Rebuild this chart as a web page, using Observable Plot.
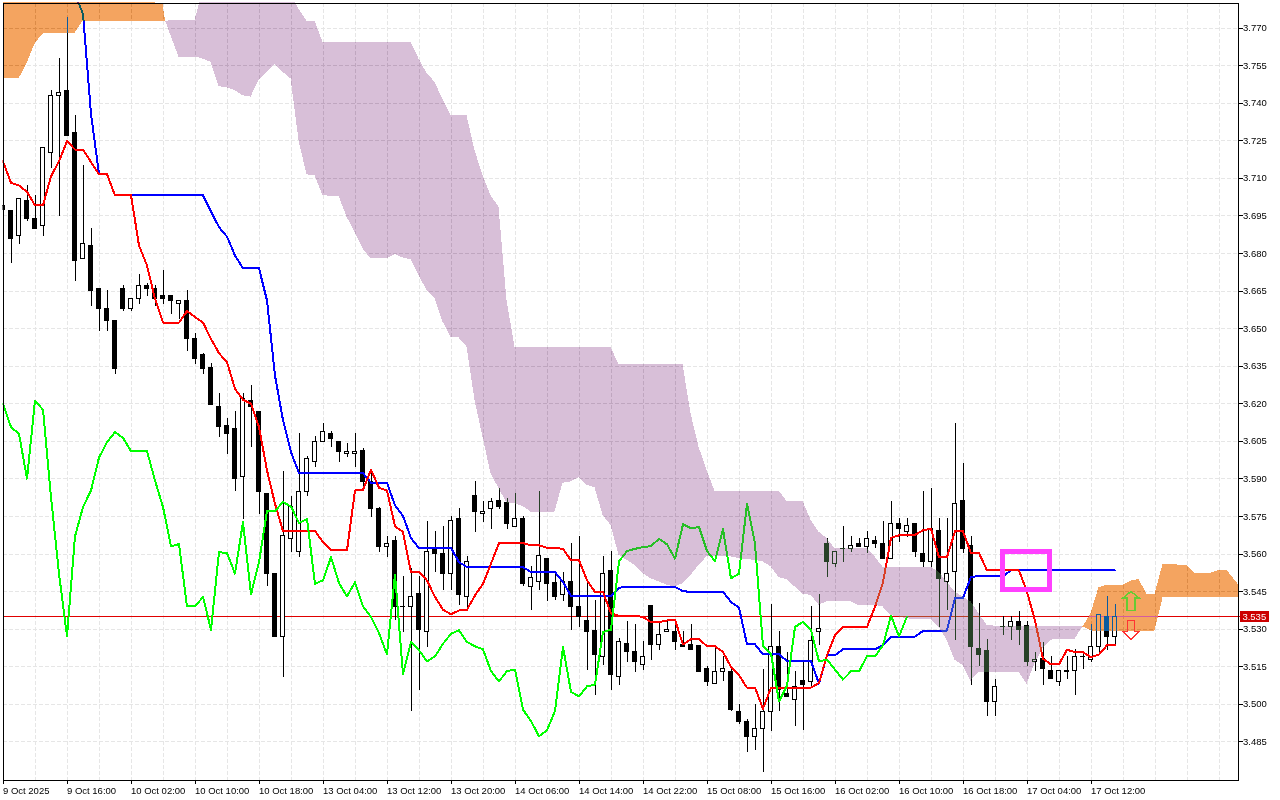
<!DOCTYPE html>
<html>
<head>
<meta charset="utf-8">
<script src="https://cdn.jsdelivr.net/npm/d3@7"></script>
<script src="https://cdn.jsdelivr.net/npm/@observablehq/plot@0.6"></script>
<style>
html,body{margin:0;padding:0;background:#fff;}
svg{display:block;shape-rendering:crispEdges;}
</style>
</head>
<body>
<div id="chart"></div>
<script>
const xTickLabels = ["9 Oct 2025","9 Oct 16:00","10 Oct 02:00","10 Oct 10:00","10 Oct 18:00","13 Oct 04:00","13 Oct 12:00","13 Oct 20:00","14 Oct 06:00","14 Oct 14:00","14 Oct 22:00","15 Oct 08:00","15 Oct 16:00","16 Oct 02:00","16 Oct 10:00","16 Oct 18:00","17 Oct 04:00","17 Oct 12:00"];
const priceTicks = [3.485,3.5,3.515,3.53,3.545,3.56,3.575,3.59,3.605,3.62,3.635,3.65,3.665,3.68,3.695,3.71,3.725,3.74,3.755,3.77];
const lastPrice = 3.535;

const opens = [
3.6991,3.6971,3.687,3.7011,3.6938,3.6909,3.72,3.7429,3.745,3.7281,
3.6778,3.683,3.6659,3.6579,3.6532,3.6659,3.6578,3.6619,3.6671,3.6659,
3.6632,3.6632,3.6599,3.6611,3.6459,3.6393,3.6341,3.6189,3.611,3.61,
3.5907,3.6213,3.6169,3.5841,3.5522,3.5269,3.5661,3.5608,3.5849,3.5969,
3.6048,3.608,3.6048,3.6,3.6,3.601,3.5887,3.5781,3.5628,3.5651,
3.5388,3.5389,3.5439,3.5289,3.5619,3.5601,3.5519,3.5742,3.5429,3.583,
3.5761,3.5781,3.581,3.5802,3.5708,3.5742,3.5469,3.549,3.5582,3.5483,
3.5437,3.549,3.539,3.5332,3.5292,3.5189,3.5531,3.5109,3.524,3.5209,
3.5159,3.5391,3.5239,3.529,3.529,3.5239,3.5239,3.5232,3.514,3.508,
3.513,3.513,3.497,3.493,3.487,3.49,3.497,3.523,3.504,3.5019,
3.5092,3.5091,3.5289,3.5641,3.5562,3.562,3.5621,3.5641,3.5628,3.5651,
3.5641,3.558,3.5721,3.5688,3.5721,3.5601,3.5568,3.5691,3.5488,3.5528,
3.581,3.5631,3.522,3.5212,3.5009,3.5308,3.5309,3.533,3.5312,3.5169,
3.518,3.5132,3.5091,3.5131,3.5132,3.519,3.5179,3.5229,3.5349,3.5269];
const closes = [
3.6975,3.6857,3.7016,3.6937,3.6897,3.7221,3.7429,3.7439,3.7268,3.6769,
3.6838,3.6649,3.6578,3.653,3.6338,3.6578,3.6619,3.6671,3.6657,3.6619,
3.6617,3.6609,3.6611,3.6458,3.6378,3.6338,3.6195,3.6107,3.608,3.5899,
3.622,3.6189,3.5848,3.5522,3.5269,3.5671,3.579,3.5849,3.5979,3.6048,
3.6088,3.606,3.6007,3.6007,3.6007,3.5887,3.578,3.5628,3.5641,3.5389,
3.5389,3.5429,3.5296,3.561,3.5599,3.5519,3.5731,3.5435,3.557,3.5768,
3.5769,3.5809,3.5788,3.572,3.5741,3.548,3.5503,3.5591,3.548,3.5429,
3.549,3.5389,3.5349,3.5289,3.5196,3.5522,3.5117,3.525,3.5209,3.5169,
3.519,3.5236,3.5278,3.5298,3.5249,3.5229,3.5216,3.513,3.5089,3.513,
3.514,3.4977,3.493,3.487,3.49,3.4971,3.523,3.5056,3.503,3.507,
3.5076,3.5252,3.53,3.5567,3.561,3.5621,3.5631,3.5628,3.5661,3.5641,
3.558,3.5721,3.5701,3.5711,3.5607,3.5568,3.5701,3.5499,3.5522,3.5801,
3.5619,3.5229,3.5196,3.5009,3.5071,3.5309,3.533,3.5298,3.5169,3.5179,
3.514,3.51,3.5132,3.5132,3.519,3.5191,3.523,3.5358,3.5269,3.535];
const highs = [
3.6991,3.6971,3.7016,3.707,3.703,3.7221,3.745,3.758,3.7743,3.735,
3.7151,3.6898,3.6659,3.6652,3.6532,3.6672,3.6619,3.6718,3.6681,3.6672,
3.6732,3.6632,3.6611,3.6652,3.6479,3.6399,3.6359,3.6242,3.614,3.6169,
3.6242,3.6273,3.6169,3.5841,3.5522,3.5931,3.583,3.608,3.599,3.607,
3.612,3.6088,3.6048,3.604,3.608,3.6023,3.5934,3.5788,3.5671,3.5671,
3.5512,3.5542,3.5512,3.573,3.5691,3.5711,3.575,3.5781,3.5591,3.589,
3.581,3.5821,3.5861,3.5821,3.5841,3.575,3.5551,3.585,3.5582,3.5528,
3.5528,3.5641,3.5671,3.5488,3.5415,3.5591,3.5611,3.5265,3.5332,3.532,
3.5252,3.5391,3.5328,3.5338,3.5328,3.5292,3.5319,3.5232,3.515,3.5226,
3.5191,3.515,3.5,3.494,3.5,3.514,3.5399,3.5292,3.5209,3.513,
3.5173,3.5391,3.5438,3.5661,3.561,3.5711,3.5671,3.5661,3.5691,3.5671,
3.573,3.581,3.5741,3.5741,3.5724,3.585,3.5861,3.5741,3.5741,3.612,
3.596,3.5671,3.5402,3.526,3.5099,3.5351,3.5351,3.5371,3.5332,3.5209,
3.5249,3.5191,3.5132,3.5191,3.522,3.5209,3.532,3.5358,3.5429,3.5399];
const lows = [
3.6975,3.6758,3.6835,3.6929,3.6897,3.6869,3.714,3.6949,3.7268,3.6689,
3.6778,3.6589,3.649,3.649,3.6318,3.657,3.657,3.6596,3.6628,3.6588,
3.6596,3.6556,3.6535,3.641,3.6357,3.6317,3.6195,3.6067,3.5998,3.5848,
3.574,3.6027,3.5758,3.5469,3.5269,3.5109,3.5608,3.5588,3.5828,3.5947,
3.6048,3.6027,3.5967,3.5987,3.5947,3.5862,3.5748,3.5608,3.5588,3.5335,
3.5289,3.497,3.5056,3.5229,3.5526,3.5455,3.5455,3.5395,3.5386,3.5687,
3.5728,3.5699,3.5778,3.5699,3.5708,3.5469,3.5375,3.5455,3.5409,3.5415,
3.5409,3.5296,3.5309,3.5136,3.5036,3.5156,3.5056,3.5076,3.5169,3.5129,
3.5136,3.5176,3.5216,3.529,3.5216,3.5229,3.5216,3.513,3.507,3.508,
3.5091,3.497,3.4921,3.481,3.4817,3.473,3.489,3.497,3.503,3.491,
3.4897,3.507,3.5236,3.5508,3.5548,3.5568,3.5608,3.5628,3.5601,3.5621,
3.558,3.558,3.5648,3.5668,3.5588,3.5548,3.5548,3.5309,3.5375,3.5256,
3.5601,3.5076,3.515,3.495,3.495,3.5276,3.5256,3.5236,3.515,3.513,
3.5076,3.51,3.507,3.51,3.5036,3.514,3.5169,3.5209,3.5216,3.5236];

const tenkan = [
3.7168,3.7082,3.7071,3.7046,3.6992,3.6992,3.7108,3.7168,3.7248,3.7215,
3.7215,3.7165,3.7117,3.7117,3.7032,3.7032,3.7032,3.6832,3.6752,3.6619,
3.6524,3.6524,3.6524,3.657,3.6546,3.6524,3.6459,3.6402,3.6366,3.626,
3.6216,3.62,3.6107,3.5934,3.5801,3.5692,3.5692,3.5692,3.5692,3.5692,
3.5648,3.5615,3.5615,3.5615,3.5854,3.5856,3.5937,3.5865,3.5854,3.5711,
3.5688,3.5528,3.5528,3.5495,3.5429,3.5378,3.536,3.5375,3.5378,3.5435,
3.5482,3.5562,3.5644,3.5644,3.5644,3.5644,3.5635,3.5635,3.5625,3.5625,
3.5621,3.5575,3.5575,3.5495,3.5449,3.5449,3.5363,3.5354,3.5354,3.5354,
3.5349,3.5328,3.5328,3.5335,3.5338,3.5239,3.5261,3.5261,3.5232,3.5232,
3.5209,3.515,3.5116,3.5067,3.5067,3.4983,3.5067,3.5067,3.5067,3.5067,
3.5067,3.5067,3.5086,3.5196,3.5276,3.5309,3.5309,3.5309,3.5309,3.5389,
3.5488,3.5665,3.5675,3.5677,3.5677,3.5695,3.5701,3.5588,3.5588,3.5691,
3.5691,3.5604,3.5604,3.5535,3.5535,3.5535,3.5535,3.5535,3.5449,3.5335,
3.5182,3.516,3.516,3.5218,3.5209,3.5209,3.5188,3.5199,3.5236,3.5236];
const kijun = [
null,null,null,null,null,null,null,null,null,3.7836,
3.7756,3.7357,3.7117,3.7117,3.7032,3.7032,3.7032,3.7032,3.7032,3.7032,
3.7032,3.7032,3.7032,3.7032,3.7032,3.7032,3.6968,3.6905,3.6867,3.6792,
3.6741,3.6741,3.6741,3.6612,3.6313,3.6134,3.6007,3.5923,3.5923,3.5923,
3.5923,3.5923,3.5923,3.5923,3.5923,3.5923,3.5885,3.5885,3.5885,3.5794,
3.5752,3.5664,3.5624,3.5624,3.5624,3.5624,3.5624,3.5568,3.5548,3.5548,
3.5548,3.5548,3.5548,3.5548,3.5548,3.5548,3.5528,3.5528,3.5528,3.5528,
3.5488,3.5433,3.5433,3.5433,3.5433,3.5433,3.5433,3.5466,3.5469,3.5469,
3.5469,3.5469,3.5469,3.5469,3.5469,3.5452,3.5449,3.5449,3.5449,3.5449,
3.5449,3.5409,3.5386,3.524,3.524,3.52,3.52,3.52,3.5173,3.5173,
3.5173,3.5173,3.5083,3.5196,3.5196,3.522,3.522,3.522,3.522,3.522,
3.5236,3.5271,3.5271,3.5271,3.5271,3.5293,3.5295,3.5295,3.5295,3.5426,
3.5426,3.5509,3.5512,3.5512,3.5512,3.5512,3.5535,3.5535,3.5535,3.5535,
3.5535,3.5535,3.5535,3.5535,3.5535,3.5535,3.5535,3.5535,3.5535,3.5535];
const chikou = [
3.62,3.6107,3.608,3.5901,3.6213,3.6176,3.5828,3.5522,3.5272,3.5671,
3.5788,3.5854,3.5985,3.6047,3.6087,3.6064,3.6011,3.6011,3.6011,3.5894,
3.5788,3.5631,3.564,3.5391,3.5391,3.5429,3.5298,3.5608,3.5604,3.5522,
3.5728,3.5439,3.5568,3.5772,3.5772,3.5808,3.579,3.5724,3.574,3.5482,
3.5495,3.5588,3.5484,3.5431,3.5488,3.5391,3.5349,3.5285,3.52,3.5519,
3.512,3.5249,3.5216,3.5172,3.5192,3.5242,3.5282,3.5296,3.5249,3.5232,
3.522,3.5133,3.5092,3.5133,3.5139,3.4979,3.4934,3.4873,3.4897,3.4974,
3.5229,3.505,3.5032,3.5072,3.5079,3.5289,3.5298,3.5571,3.5612,3.5621,
3.5628,3.5632,3.5661,3.5639,3.5582,3.5719,3.5703,3.5708,3.5612,3.5572,
3.5699,3.5503,3.5522,3.5801,3.5641,3.5232,3.5203,3.5012,3.5076,3.5309,
3.533,3.5296,3.5172,3.5179,3.5139,3.5099,3.5132,3.5132,3.5192,3.5192,
3.5236,3.5355,3.5271,3.5351];

// Cloud bands: bar position, upper and lower edge
const firstCloudBars = [0,1,2,3,4,5,6,7,8,9,10,11,12,13,14,15,16,17,18,19,20,20.33];
const firstCloudUpper = [3.78,3.78,3.78,3.78,3.78,3.78,3.78,3.78,3.78,3.78,3.78,3.78,3.78,3.78,3.78,3.78,3.78,3.78,3.78,3.78,3.7793,3.7727];
const firstCloudLower = [3.7497,3.7497,3.7497,3.7557,3.7636,3.7676,3.7679,3.7679,3.7679,3.7679,3.7727,3.7727,3.7727,3.7727,3.7727,3.7727,3.7727,3.7727,3.7727,3.7727,3.7727,3.7727];

const midCloudBars = [20.33,21,22,23,24,24.6,25,26,27,28,29,30,31,32,33,34,35,36,36.6,37,38,39,40,41,42,43,44,45,46,47,48,49,50,51,52,53,54,55,56,57,58,59,60,61,62,63,64,65,66,67,68,69,70,71,72,73,74,75,76,77,78,79,80,81,82,83,84,85,86,87,88,89,90,91,92,93,94,95,96,97,98,99,100,101,102,103,104,105,106,107,108,109,110,111,112,113,114,115,116,117,118,119,120,121,122,123,124,125,126,127,128,129,130,131,132,133,134,135];
const midCloudUpper = [3.7727,
3.7729,3.7729,3.7729,3.7729,3.78,3.78,3.78,3.78,3.78,3.78,
3.78,3.78,3.78,3.78,3.78,3.78,3.78,3.78,3.7774,3.7727,3.7727,
3.7643,3.7643,3.7643,3.7643,3.7643,3.7643,3.7643,3.7643,3.7643,3.7643,
3.7643,3.7643,3.7576,3.7519,3.7483,3.7414,3.735,3.735,3.735,3.721,
3.7111,3.7031,3.6984,3.6612,3.6426,3.6424,3.6424,3.6424,3.6424,3.6424,
3.6424,3.6424,3.6424,3.6424,3.6424,3.6424,3.6424,3.6357,3.6357,3.6357,
3.6357,3.6357,3.6357,3.6357,3.6357,3.6357,3.616,3.6027,3.5934,3.5851,
3.5851,3.5851,3.5851,3.5851,3.5851,3.5851,3.5851,3.5851,3.5811,3.5811,
3.5811,3.5735,3.5688,3.5662,3.5622,3.5622,3.5622,3.5622,3.5622,3.5589,
3.5548,3.5548,3.5548,3.5548,3.5548,3.5548,3.5548,3.5528,3.5488,3.5449,
3.5429,3.5409,3.5362,3.5316,3.5312,3.5312,3.5312,3.5312,3.5312,3.5312,
3.5312,3.5312,3.5312,3.5312,3.5312,3.5309];
const midCloudLower = [3.7727,
3.7669,3.7583,3.7583,3.7583,3.758,3.7576,3.7563,3.7466,3.7461,3.745,
3.743,3.7424,3.749,3.7523,3.7554,3.7523,3.7497,3.735,3.725,3.7114,3.711,
3.7031,3.7028,3.7028,3.6945,3.6885,3.6818,3.6778,3.6778,3.6778,3.6796,
3.6782,3.6774,3.6712,3.6652,3.6619,3.6526,3.6466,3.6463,3.6426,3.6213,
3.6067,3.5921,3.5861,3.5804,3.5801,3.579,3.5768,3.5768,3.5768,3.5768,
3.5883,3.5888,3.5904,3.5875,3.5865,3.5755,3.5715,3.5595,3.5575,3.5555,
3.5522,3.5502,3.5489,3.5476,3.5469,3.5482,3.5515,3.5555,3.5589,3.5591,
3.5591,3.5589,3.5582,3.5578,3.5575,3.5569,3.5549,3.5506,3.5498,3.5469,
3.5438,3.5436,3.5396,3.5409,3.5409,3.5409,3.5409,3.5393,3.5393,3.5396,
3.5389,3.5355,3.5349,3.5342,3.5339,3.5339,3.5339,3.5309,3.5256,3.5176,
3.5156,3.5093,3.5129,3.5129,3.5129,3.5129,3.5129,3.5129,3.508,3.5163,
3.5222,3.5256,3.5261,3.5261,3.5261,3.5309];

const lastCloudBars = [135,136,137,138,139,140,141,142,143,144,145,146,147,148,149,150,151,152,153,154,154.375];
const lastCloudUpper = [3.5309,3.5362,3.5466,3.5475,3.5475,3.5475,3.5492,3.5499,3.5439,3.5439,3.5559,3.5559,3.5556,3.5553,3.5524,3.5524,3.5524,3.5535,3.5535,3.5495,3.548];
const lastCloudLower = [3.5309,3.5293,3.5293,3.5293,3.5293,3.5293,3.5293,3.5293,3.5293,3.5293,3.5425,3.5425,3.5425,3.5425,3.5425,3.5425,3.5425,3.5425,3.5425,3.5425,3.5425];

const markerBars = [125,130.9];
const markerPrices = [3.5457,3.5609];

const bars = opens.map((o,i)=>({i,o,h:highs[i],l:lows[i],c:closes[i]}));
const series = a => a.map((v,i)=>({i,v})).filter(d=>d.v!=null);
const band = (xs,up,lo) => xs.map((x,k)=>({x,up:up[k],lo:lo[k]}));

const upArrow = {draw(c){c.moveTo(0,-9.5);c.lineTo(8,-3);c.lineTo(4,-3);c.lineTo(4,9.5);c.lineTo(-4,9.5);c.lineTo(-4,-3);c.lineTo(-8,-3);c.closePath();}};
const downArrow = {draw(c){c.moveTo(-3.5,-9.5);c.lineTo(3.5,-9.5);c.lineTo(3.5,1.5);c.lineTo(8,1.5);c.lineTo(0,9.5);c.lineTo(-8,1.5);c.lineTo(-3.5,1.5);c.closePath();}};

const chart = Plot.plot({
  width:1280, height:800,
  marginLeft:2.5, marginTop:2.5, marginRight:42.5, marginBottom:20.5,
  style:{fontFamily:"'Liberation Sans',Arial,sans-serif",fontSize:"9.5px",color:"#000",background:"#fff"},
  x:{domain:[0,154.375]},
  y:{domain:[3.46983,3.77998]},
  marks:[
    Plot.frame({fill:"#fff",stroke:null}),
    Plot.gridX(d3.range(0,155,4),{stroke:"#e6e6e6",strokeOpacity:1,strokeDasharray:"4 2"}),
    Plot.gridY(priceTicks,{stroke:"#e6e6e6",strokeOpacity:1,strokeDasharray:"4 2"}),
    Plot.ruleY([lastPrice],{stroke:"#e00000",strokeWidth:1,x1:0,x2:154.8,clip:false}),
    Plot.ruleX(bars,{x:"i",y1:"l",y2:"h",stroke:"#000",strokeWidth:1,clip:true}),
    Plot.rect(bars,{x1:d=>d.i-0.25,x2:d=>d.i+0.25,y1:"o",y2:"c",fill:d=>d.c>=d.o?"#fff":"#000",stroke:"#000",strokeWidth:1,clip:true}),
    Plot.line(series(kijun),{x:"i",y:"v",stroke:"#0000ff",strokeWidth:2,clip:true}),
    Plot.line(series(tenkan),{x:"i",y:"v",stroke:"#ff0000",strokeWidth:2,clip:true}),
    Plot.line(series(chikou),{x:"i",y:"v",stroke:"#00ff00",strokeWidth:2,clip:true}),
    Plot.areaY(band(firstCloudBars,firstCloudUpper,firstCloudLower),{x:"x",y1:"up",y2:"lo",fill:"#0b5b9f",mixBlendMode:"difference"}),
    Plot.areaY(band(midCloudBars,midCloudUpper,midCloudLower),{x:"x",y1:"up",y2:"lo",fill:"#274027",mixBlendMode:"difference"}),
    Plot.areaY(band(lastCloudBars,lastCloudUpper,lastCloudLower),{x:"x",y1:"up",y2:"lo",fill:"#0b5b9f",mixBlendMode:"difference"}),
    Plot.rect([0],{x1:markerBars[0],x2:markerBars[1],y1:markerPrices[0],y2:markerPrices[1],fill:"none",stroke:"#ff40ff",strokeWidth:5}),
    Plot.dot([0],{x:141,y:3.5413,symbol:upArrow,stroke:"#66cc33",strokeWidth:1.5,fill:"none"}),
    Plot.dot([0],{x:141,y:3.5297,symbol:downArrow,stroke:"#ff3333",strokeWidth:1.5,fill:"none"}),
    Plot.frame({stroke:"#000",strokeWidth:1}),
    Plot.axisX(d3.range(0,xTickLabels.length).map(k=>k*8),{anchor:"bottom",tickSize:4,tickPadding:3,textAnchor:"start",label:null,tickFormat:v=>xTickLabels[v/8]}),
    Plot.axisY(priceTicks,{anchor:"right",tickSize:4,tickPadding:1,label:null,tickFormat:d3.format(".3f")}),
    Plot.rect([0],{x1:154.69,x2:158.3,y1:lastPrice-0.0022,y2:lastPrice+0.0022,fill:"#cc0000",clip:false}),
    Plot.text([lastPrice],{x:154.8,y:d=>d,text:d=>d.toFixed(3),fill:"#fff",textAnchor:"start",clip:false,dx:1})
  ]
});
document.getElementById("chart").appendChild(chart);
</script>
</body>
</html>
